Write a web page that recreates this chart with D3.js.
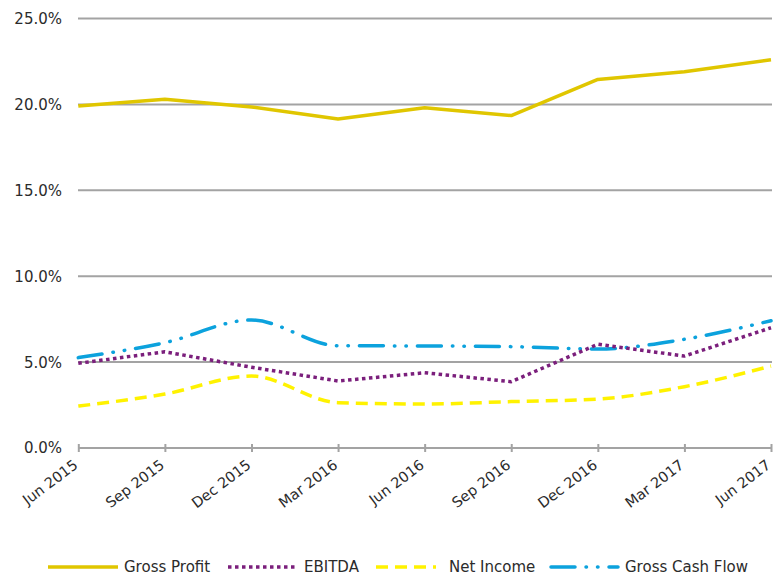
<!DOCTYPE html>
<html><head><meta charset="utf-8">
<script src="https://cdn.jsdelivr.net/npm/d3@7"></script>
<style>
body{margin:0;background:#fff;}
text{font-family:"DejaVu Sans",sans-serif;fill:#2b2b2b;}
</style></head>
<body><svg id="c" width="773" height="578"></svg>
<script>
const categories = ["Jun 2015","Sep 2015","Dec 2015","Mar 2016","Jun 2016","Sep 2016","Dec 2016","Mar 2017","Jun 2017"];
const grossProfit = [19.9,20.3,19.85,19.15,19.8,19.35,21.45,21.9,22.6];
const ebitda = [4.93,5.6,4.7,3.9,4.38,3.86,6.04,5.35,7.0];
const netIncome = [2.44,3.14,4.19,2.64,2.56,2.7,2.85,3.57,4.77];
const grossCashFlow = [5.26,6.13,7.45,5.95,5.94,5.9,5.76,6.33,7.41];
const yTicks = [0,5,10,15,20,25];
const seriesNames = ["Gross Profit","EBITDA","Net Income","Gross Cash Flow"];

const svg = d3.select("#c");
const x = d3.scalePoint().domain(categories).range([78.3,771]);
const y = d3.scaleLinear().domain([0,25]).range([448,18.5]);

// gridlines
svg.append("g").selectAll("line").data(yTicks.filter(d=>d>0)).join("line")
  .attr("x1",78).attr("x2",772).attr("y1",d=>y(d)).attr("y2",d=>y(d))
  .attr("stroke","#a3a3a3").attr("stroke-width",2);
// y labels
svg.append("g").selectAll("text").data(yTicks).join("text")
  .attr("x",62).attr("y",d=>y(d)).attr("dy","0.36em").attr("text-anchor","end")
  .attr("font-size",15).text(d=>d.toFixed(1)+"%");
// x axis
const xa = svg.append("g").attr("transform","translate(0,448)")
  .call(d3.axisBottom(x).tickSizeInner(4).tickSizeOuter(0).tickPadding(8));
xa.select(".domain").remove();
xa.insert("line",":first-child").attr("x1",78).attr("x2",772).attr("stroke","#a3a3a3").attr("stroke-width",2);
xa.selectAll(".tick line").attr("y1",-4).attr("y2",4).attr("stroke","#a3a3a3").attr("stroke-width",2);
xa.selectAll(".tick text").attr("font-size",14.5).attr("font-family","DejaVu Sans, sans-serif").attr("fill","#2b2b2b")
  .attr("text-anchor","end").attr("dy",0).attr("y",0)
  .attr("transform","translate(0,19) rotate(-37)");

const styles = [
  {data:grossProfit,color:"#e0c600",dash:null,cap:"butt",curve:d3.curveLinear},
  {data:ebitda,color:"#7b1f7c",dash:"3.5,3.5",cap:"butt",curve:d3.curveLinear},
  {data:netIncome,color:"#fff200",dash:"12,7",cap:"butt",curve:d3.curveMonotoneX},
  {data:grossCashFlow,color:"#0ca2dd",dash:"24,11,0.5,11,0.5,11",cap:"round",curve:d3.curveMonotoneX}
];
const order = [2,3,1,0];
order.forEach(i=>{
  const s = styles[i];
  const line = d3.line().x((d,j)=>x(categories[j])).y(d=>y(d)).curve(s.curve);
  svg.append("path").datum(s.data).attr("d",line).attr("fill","none")
    .attr("stroke",s.color).attr("stroke-width",3.5).attr("stroke-linecap",s.cap)
    .attr("stroke-linejoin","round").attr("stroke-dasharray",s.dash);
});

// legend
const legendPos = [{x1:48,x2:118,tx:124},{x1:228,x2:297,tx:304},{x1:376,x2:436,tx:449},{x1:551,x2:618,tx:625}];
const ly = 567;
seriesNames.forEach((n,i)=>{
  const s = styles[i], p = legendPos[i];
  svg.append("line").attr("x1",p.x1).attr("x2",p.x2).attr("y1",ly).attr("y2",ly)
    .attr("stroke",s.color).attr("stroke-width",3.5).attr("stroke-linecap",s.cap)
    .attr("stroke-dasharray",s.dash);
  svg.append("text").attr("x",p.tx).attr("y",ly).attr("dy","0.36em").attr("font-size",15).text(n);
});
</script></body></html>
